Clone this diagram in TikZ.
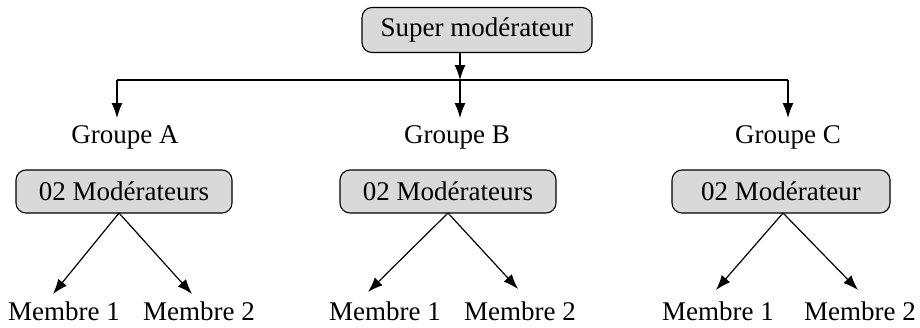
\documentclass[tikz,border=0pt]{standalone}
\usepackage{fontspec}
\setmainfont{Liberation Serif}
\usetikzlibrary{arrows.meta}
\begin{document}
\begin{tikzpicture}[x=1pt,y=-1pt,
  box/.style={draw, line width=1.1pt, fill=gray!30, rounded corners=10pt, inner sep=0pt,
              font=\fontsize{27}{30}\selectfont},
  lbl/.style={inner sep=0pt, font=\fontsize{27}{30}\selectfont},
  conn/.style={line width=1.2pt, -{Latex[length=15pt,width=11pt]}}]
\useasboundingbox (0,0) rectangle (920,327);
% top
\node[box, minimum width=230pt, minimum height=45pt] (sup) at (477,30) {Super modérateur};
\coordinate (top) at (460,52);
\coordinate (bus) at (460,80);
\coordinate (busA) at (117,80);
\coordinate (busC) at (788,80);
% groups
\node[lbl] (gA) at (125,137) {Groupe A};
\node[lbl] (gB) at (457,137) {Groupe B};
\node[lbl] (gC) at (788,137) {Groupe C};
\coordinate (tA) at (117,118);
\coordinate (tB) at (460,118);
\coordinate (tC) at (788,118);
% moderators
\node[box, minimum width=216pt, minimum height=43pt] (mA) at (124,191.5) {02 Modérateurs};
\node[box, minimum width=216pt, minimum height=43pt] (mB) at (448,191.5) {02 Modérateurs};
\node[box, minimum width=218pt, minimum height=43pt] (mC) at (781,191.5) {02 Modérateur};
% members
\node[lbl] (a1) at (64,311) {Membre 1};
\node[lbl] (a2) at (199,311) {Membre 2};
\node[lbl] (b1) at (385,311) {Membre 1};
\node[lbl] (b2) at (520,311) {Membre 2};
\node[lbl] (c1) at (718,311) {Membre 1};
\node[lbl] (c2) at (860,311) {Membre 2};
\coordinate (pA) at (119,213);
\coordinate (pB) at (448,213);
\coordinate (pC) at (783,213);
\coordinate (eA1) at (53,294);
\coordinate (eA2) at (192,294);
\coordinate (eB1) at (368,292);
\coordinate (eB2) at (518,289);
\coordinate (eC1) at (716,290);
\coordinate (eC2) at (858,290);
% connectors
\draw[conn] (top) -- (bus);
\draw[line width=1.2pt] (busA) -- (busC);
\draw[conn] (busA) -- (tA);
\draw[conn] (bus) -- (tB);
\draw[conn] (busC) -- (tC);
\draw[conn] (pA) -- (eA1);
\draw[conn] (pA) -- (eA2);
\draw[conn] (pB) -- (eB1);
\draw[conn] (pB) -- (eB2);
\draw[conn] (pC) -- (eC1);
\draw[conn] (pC) -- (eC2);
\end{tikzpicture}
\end{document}
